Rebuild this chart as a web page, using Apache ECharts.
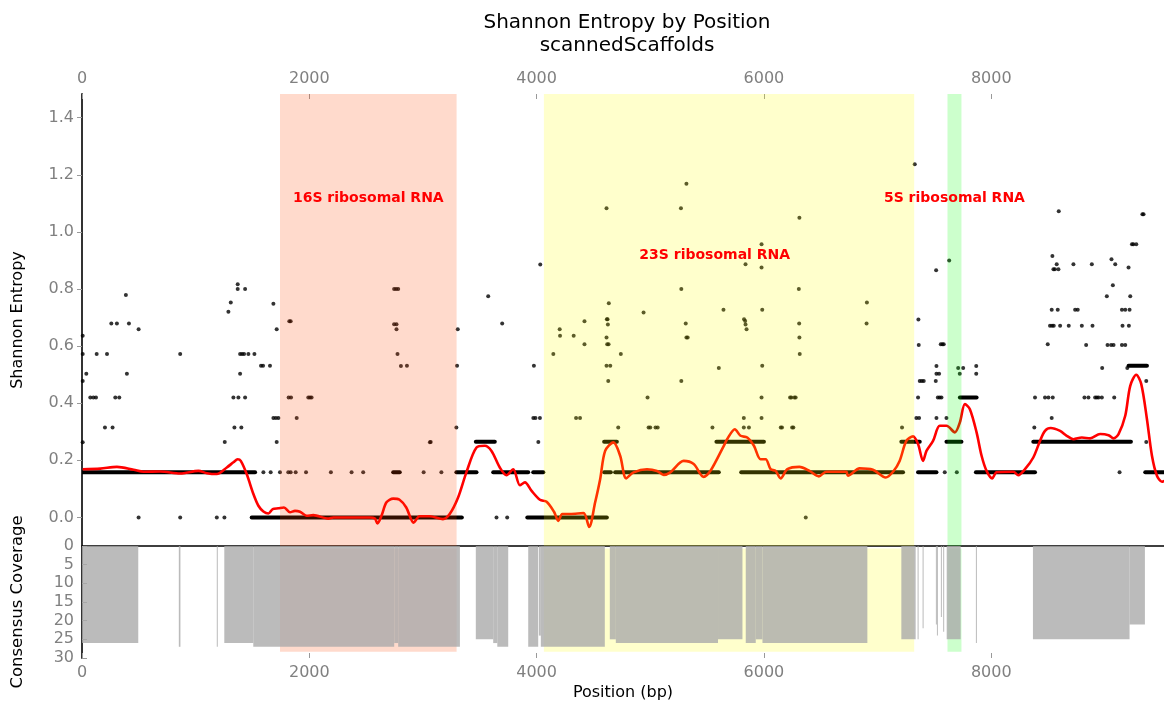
<!DOCTYPE html>
<html>
<head>
<meta charset="utf-8">
<title>Shannon Entropy by Position</title>
<script src="https://cdn.jsdelivr.net/npm/echarts@6/dist/echarts.min.js"></script>
<style>
  html, body { margin: 0; padding: 0; background: #fff; }
  #chart { width: 1164px; height: 706px; }
</style>
</head>
<body>
<div id="chart"></div>
<script>
// annotated genes (bp)
const regionName = ['16S ribosomal RNA', '23S ribosomal RNA', '5S ribosomal RNA'];
const regionStart = [1742, 4064, 7615];
const regionEnd = [3296, 7322, 7738];
const regionLabelX = [2519, 5567, 7676];
const regionLabelY = [1.117, 0.917, 1.117];

// entropy ticks
const entropyTicks = [0, 0.2, 0.4, 0.6, 0.8, 1.0, 1.2, 1.4];

// runs of consecutive positions with the same entropy: start, end, value
const runStart = [0, 2738, 3294, 3618, 3970, 4594, 4691, 5800, 7356, 7865, 9355,
  3465, 4594, 5582, 7209, 7606, 8370, 7724, 9208, 1493, 3918];
const runEnd = [1523, 2796, 3471, 3926, 4059, 4653, 5603, 7224, 7518, 8385, 9523,
  3632, 4706, 6000, 7371, 7738, 9229, 7871, 9370, 3342, 4618];
const runValue = [0.158, 0.158, 0.158, 0.158, 0.158, 0.158, 0.158, 0.158, 0.158, 0.158, 0.158,
  0.265, 0.265, 0.265, 0.265, 0.265, 0.265, 0.42, 0.531, 0, 0];

// single positions
const dotPos = [6, 6, 6, 6, 38, 73, 100, 123, 129, 202, 220, 258, 307, 269, 293, 328, 386, 395, 413, 498, 498,
  864, 864, 1186, 1253, 1256, 1288, 1309, 1332, 1341, 1370, 1370, 1376, 1391, 1391, 1409, 1426, 1402, 1435, 1435,
  1464, 1517, 1575, 1593, 1654, 1684, 1684, 1706, 1728, 1713, 1713, 1824, 1836, 1818, 1839, 1889, 1991, 2006, 2020,
  1596, 1660, 1742, 1815, 1836, 1880, 1971, 2190, 2372, 2474,
  2746, 2764, 2782, 2746, 2767, 2767, 2776, 2859, 2806, 3006, 3162, 3061, 3068, 3306, 3300, 3294,
  3574, 3697, 3647, 3741, 3976, 3971, 3990, 4029, 4015, 4032, 4147, 4203, 4206, 4326, 4347, 4382, 4421, 4421,
  4615, 4618, 4624, 4627, 4615, 4621, 4633, 4615, 4648, 4630, 4635, 4718, 4741, 4941, 4976, 4985, 5000, 5046, 5065,
  5270, 5273, 5312, 5318, 5318, 5329, 5273, 5547, 5603, 5644, 5838, 5825, 5835, 5838, 5847, 5823, 5823, 5868,
  5979, 5979, 5985, 5985, 5979, 5979, 6159, 6148, 6241, 6230, 6268, 6279, 6259, 6248,
  6312, 6307, 6310, 6312, 6315, 6368, 6906, 6903, 7215, 7327, 7359, 7362, 7371, 7389, 7406, 7356, 7341, 7365,
  7515, 7518, 7518, 7541, 7512, 7530, 7546, 7562, 7518, 7606, 7556, 7570, 7582, 7591, 7630, 7709, 7753, 7723, 7697,
  7868, 7868, 8379, 8385, 8473, 8503, 8541, 8497, 8532, 8538, 8532, 8585, 8517, 8535, 8550, 8606, 8576, 8547, 8560,
  8591, 8594, 8682, 8723, 8738, 8761, 8797, 8835, 8885, 8891, 8820, 8855, 8914, 8929, 8944, 8973, 9082, 8976, 9017,
  9058, 9091, 9070, 9023, 9055, 9076, 9150, 9179, 9150, 9179, 9217, 9155, 9211, 9208, 9223, 9197, 9238, 9250, 9276,
  9330, 9340, 9364, 9364, 9129];
const dotEntropy = [0.636, 0.572, 0.478, 0.263, 0.503, 0.42, 0.42, 0.42, 0.572, 0.315, 0.572, 0.679, 0.679, 0.315, 0.42, 0.42, 0.779, 0.503, 0.679, 0.659, 0,
  0.572, 0, 0, 0, 0.264, 0.72, 0.753, 0.42, 0.315, 0.817, 0.8, 0.42, 0.503, 0.572, 0.572, 0.572, 0.315, 0.8, 0.42,
  0.572, 0.572, 0.531, 0.531, 0.531, 0.748, 0.348, 0.348, 0.348, 0.659, 0.264, 0.687, 0.687, 0.42, 0.42, 0.348, 0.42, 0.42, 0.42,
  0.158, 0.158, 0.158, 0.158, 0.158, 0.158, 0.158, 0.158, 0.158, 0.158,
  0.8, 0.8, 0.8, 0.677, 0.677, 0.659, 0.572, 0.531, 0.53, 0.158, 0.158, 0.263, 0.264, 0.659, 0.531, 0.315,
  0.775, 0.679, 0, 0, 0.531, 0.348, 0.348, 0.348, 0.264, 0.886, 0.572, 0.659, 0.636, 0.636, 0.348, 0.348, 0.687, 0.607,
  1.083, 0.694, 0.694, 0.676, 0.63, 0.607, 0.607, 0.531, 0.531, 0.478, 0.75, 0.315, 0.572, 0.718, 0.42, 0.315, 0.315, 0.315, 0.315,
  1.083, 0.8, 0.679, 1.169, 0.63, 0.63, 0.478, 0.315, 0.523, 0.727, 0.887, 0.694, 0.688, 0.676, 0.659, 0.348, 0.315, 0.315,
  0.957, 0.875, 0.727, 0.531, 0.42, 0.348, 0.315, 0.315, 0.42, 0.42, 0.42, 0.42, 0.315, 0.315,
  1.05, 0.8, 0.679, 0.63, 0.572, 0, 0.753, 0.679, 0.315, 1.237, 0.693, 0.604, 0.478, 0.478, 0.478, 0.42, 0.348, 0.348,
  0.866, 0.53, 0.503, 0.503, 0.478, 0.42, 0.42, 0.42, 0.348, 0.348, 0.607, 0.607, 0.607, 0.158, 0.9, 0.523, 0.523, 0.503, 0.158,
  0.53, 0.503, 0.315, 0.42, 0.42, 0.42, 0.42, 0.607, 0.348, 0.916, 0.727, 0.727, 0.671, 0.671, 0.671, 0.671, 0.887, 0.869, 0.869,
  0.869, 1.072, 0.671, 0.887, 0.727, 0.727, 0.671, 0.604, 0.887, 0.671, 0.42, 0.42, 0.42, 0.42, 0.42, 0.42, 0.42, 0.523, 0.775,
  0.904, 0.887, 0.813, 0.604, 0.604, 0.604, 0.604, 0.604, 0.727, 0.727, 0.727, 0.671, 0.671, 0.875, 0.775, 0.523, 0.957, 0.957, 0.957,
  1.062, 1.062, 0.478, 0.264, 0.158];

// smoothed entropy (red curve)
const smoothPos = [6, 161, 307, 454, 542, 688, 864, 1025, 1098, 1186, 1274, 1332, 1370, 1397, 1449, 1508, 1552, 1596,
  1640, 1678, 1728, 1777, 1830, 1874, 1918, 1976, 2035, 2167, 2211, 2386, 2533, 2577, 2600, 2635, 2679, 2738, 2794,
  2853, 2918, 2971, 3059, 3176, 3235, 3309, 3382, 3471, 3544, 3603, 3676, 3735, 3794, 3853, 3897, 3956, 4029, 4088,
  4153, 4191, 4226, 4294, 4412, 4462, 4515, 4559, 4603, 4676, 4735, 4788, 4853, 4971, 5059, 5118, 5176, 5294, 5382,
  5470, 5529, 5647, 5676, 5744, 5794, 5853, 5912, 5970, 6015, 6059, 6103, 6147, 6206, 6312, 6401, 6483, 6548, 6724,
  6739, 6842, 6959, 7071, 7136, 7194, 7253, 7312, 7356, 7400, 7430, 7488, 7547, 7606, 7680, 7724, 7768, 7812, 7871,
  7915, 7959, 8009, 8047, 8194, 8238, 8297, 8370, 8429, 8473, 8523, 8606, 8664, 8723, 8797, 8870, 8958, 9032, 9076,
  9120, 9179, 9223, 9276, 9320, 9370, 9414, 9458, 9502, 9523];
const smoothEntropy = [0.169, 0.171, 0.177, 0.167, 0.16, 0.161, 0.154, 0.163, 0.155, 0.152, 0.175, 0.193, 0.204, 0.198,
  0.152, 0.082, 0.041, 0.021, 0.014, 0.029, 0.032, 0.035, 0.018, 0.023, 0.02, 0.006, 0.008, -0.004, 0, 0, 0, -0.004,
  -0.021, 0.006, 0.053, 0.066, 0.062, 0.035, -0.018, 0.004, 0.004, -0.006, 0.012, 0.07, 0.158, 0.245, 0.251, 0.233,
  0.175, 0.148, 0.169, 0.113, 0.123, 0.093, 0.062, 0.055, 0.02, -0.012, 0.012, 0.012, 0.015, -0.033, 0.053, 0.134,
  0.233, 0.263, 0.216, 0.137, 0.158, 0.169, 0.163, 0.149, 0.158, 0.198, 0.187, 0.142, 0.163, 0.251, 0.274, 0.309,
  0.286, 0.28, 0.251, 0.204, 0.204, 0.169, 0.163, 0.137, 0.169, 0.177, 0.163, 0.144, 0.16, 0.16, 0.146, 0.172, 0.167,
  0.14, 0.16, 0.198, 0.268, 0.284, 0.257, 0.198, 0.233, 0.268, 0.321, 0.321, 0.298, 0.333, 0.397, 0.379, 0.298,
  0.216, 0.163, 0.137, 0.158, 0.16, 0.148, 0.169, 0.21, 0.268, 0.303, 0.313, 0.303, 0.286, 0.274, 0.28, 0.277,
  0.292, 0.288, 0.277, 0.292, 0.356, 0.461, 0.5, 0.467, 0.344, 0.216, 0.146, 0.125, 0.128];

// consensus coverage: start, end, depth
const covStart = [0, 852, 1186, 1252, 1507, 2747, 2782, 3465, 3618, 3654, 3926, 4020, 4037, 4644, 4697, 5596,
  5840, 5928, 5987, 7209, 7352, 7396, 7513, 7522, 7557, 7577, 7608, 7865, 8367, 9217];
const covEnd = [495, 866, 1194, 1507, 2747, 2782, 3325, 3618, 3654, 3750, 4014, 4037, 4600, 4697, 5596, 5811,
  5928, 5987, 6910, 7335, 7360, 7404, 7521, 7530, 7565, 7585, 7731, 7873, 9217, 9352];
const covDepth = [26, 27, 27, 26, 27, 26, 27, 25, 26, 27, 27, 24, 27, 25, 26, 25,
  26, 25, 26, 25, 25, 22, 21, 24, 19, 23, 25, 26, 25, 21];

const xMax = 9520;
const regionColor = ['rgba(255,69,0,0.2)', 'rgba(255,255,0,0.2)', 'rgba(0,255,0,0.2)'];
const font = 'DejaVu Sans';

const chart = echarts.init(document.getElementById('chart'));

const xCommon = {
  type: 'value', min: 0, max: xMax, interval: 2000,
  axisLine: { show: false, onZero: false },
  axisTick: { show: true, inside: true, length: 5, lineStyle: { color: '#999' } },
  axisLabel: {
    color: '#808080', fontSize: 16, fontFamily: font, margin: 7, showMaxLabel: false,
    formatter: v => String(v)
  },
  splitLine: { show: false }
};

const option = {
  animation: false,
  textStyle: { fontFamily: font },
  title: {
    text: 'Shannon Entropy by Position\nscannedScaffolds',
    left: 622, top: 6, textAlign: 'center',
    textStyle: { fontFamily: font, fontSize: 20, fontWeight: 'normal', color: '#000', lineHeight: 23 }
  },
  grid: [
    { left: 82, right: 0, top: 94, height: 452 },
    { left: 82, right: 0, top: 546, height: 112 }
  ],
  xAxis: [
    Object.assign({}, xCommon, { gridIndex: 0, position: 'top' }),
    Object.assign({}, xCommon, {
      gridIndex: 1, position: 'bottom',
      name: 'Position (bp)', nameLocation: 'middle', nameGap: 27,
      nameTextStyle: { color: '#000', fontSize: 16, fontFamily: font }
    }),
    {
      gridIndex: 1, type: 'value', position: 'top', min: 0, max: xMax,
      axisLine: { show: true, onZero: false, lineStyle: { color: '#000', width: 1.5 } },
      axisTick: { show: false }, axisLabel: { show: false }, splitLine: { show: false }
    }
  ],
  yAxis: [
    {
      gridIndex: 0, type: 'value', min: -0.1, max: 1.483,
      axisLine: { show: true, onZero: false, lineStyle: { color: '#333', width: 2 } },
      axisTick: { show: true, length: 5, customValues: entropyTicks, lineStyle: { color: '#999' } },
      axisLabel: {
        customValues: entropyTicks, color: '#808080', fontSize: 16, fontFamily: font, margin: 8,
        formatter: v => v.toFixed(1)
      },
      splitLine: { show: false },
      name: 'Shannon Entropy', nameLocation: 'middle', nameGap: 56,
      nameTextStyle: { color: '#000', fontSize: 16, fontFamily: font }
    },
    {
      gridIndex: 1, type: 'value', inverse: true, min: 0, max: 30, interval: 5,
      axisLine: { show: true, onZero: false, lineStyle: { color: '#333', width: 2 } },
      axisTick: { show: true, inside: true, length: 5, lineStyle: { color: '#999' } },
      axisLabel: { color: '#808080', fontSize: 16, fontFamily: font, margin: 8 },
      splitLine: { show: false },
      name: 'Consensus Coverage', nameLocation: 'middle', nameGap: 56,
      nameTextStyle: { color: '#000', fontSize: 16.5, fontFamily: font }
    }
  ],
  series: [
    {
      // gene spans, coverage panel (under the bars)
      type: 'custom', xAxisIndex: 1, yAxisIndex: 1, z: 1,
      data: regionStart.map((s, i) => [s, regionEnd[i]]),
      encode: { x: [0, 1] },
      renderItem: (params, api) => {
        const a = api.coord([api.value(0), 0.7]);
        const b = api.coord([api.value(1), 28.3]);
        return {
          type: 'rect',
          shape: { x: a[0], y: a[1], width: b[0] - a[0], height: b[1] - a[1] },
          style: { fill: regionColor[params.dataIndex] }
        };
      }
    },
    {
      // coverage bars
      type: 'custom', xAxisIndex: 1, yAxisIndex: 1, z: 2, clip: true,
      data: covStart.map((s, i) => [s, covEnd[i], covDepth[i]]),
      encode: { x: [0, 1], y: 2 },
      renderItem: (params, api) => {
        const p0 = api.coord([api.value(0), 0]);
        const p1 = api.coord([api.value(1), api.value(2)]);
        return {
          type: 'rect',
          shape: { x: p0[0], y: p0[1], width: Math.max(p1[0] - p0[0], 1), height: p1[1] - p0[1] },
          style: { fill: 'rgba(170,170,170,0.8)' }
        };
      }
    },
    {
      // runs of identical entropy
      type: 'custom', xAxisIndex: 0, yAxisIndex: 0, z: 2, clip: true,
      data: runStart.map((s, i) => [s, runEnd[i], runValue[i]]),
      encode: { x: [0, 1], y: 2 },
      renderItem: (params, api) => {
        const a = api.coord([api.value(0), api.value(2)]);
        const b = api.coord([api.value(1), api.value(2)]);
        return {
          type: 'line',
          shape: { x1: a[0], y1: a[1], x2: b[0], y2: b[1] },
          style: { stroke: '#000', lineWidth: 4, lineCap: 'round' }
        };
      }
    },
    {
      type: 'scatter', xAxisIndex: 0, yAxisIndex: 0, z: 2,
      symbolSize: 4, itemStyle: { color: '#000' },
      data: dotPos.map((p, i) => [p, dotEntropy[i]])
    },
    {
      type: 'line', xAxisIndex: 0, yAxisIndex: 0, z: 3,
      smooth: 0.3, showSymbol: false,
      lineStyle: { color: '#ff0000', width: 2.6 },
      data: smoothPos.map((p, i) => [p, smoothEntropy[i]])
    },
    {
      // gene spans, top panel, with labels
      type: 'custom', xAxisIndex: 0, yAxisIndex: 0, z: 5,
      data: regionStart.map((s, i) => [s, regionEnd[i], regionLabelX[i], regionLabelY[i]]),
      encode: { x: [0, 1], y: 3 },
      renderItem: (params, api) => {
        const i = params.dataIndex;
        const cs = params.coordSys;
        const a = api.coord([api.value(0), 0]);
        const b = api.coord([api.value(1), 0]);
        const t = api.coord([api.value(2), api.value(3)]);
        return {
          type: 'group',
          children: [
            { type: 'rect', shape: { x: a[0], y: cs.y, width: b[0] - a[0], height: cs.height },
              style: { fill: regionColor[i] } },
            { type: 'text', x: t[0], y: t[1], z2: 10,
              style: { text: regionName[i], fill: '#ff0000', font: 'bold 14px "DejaVu Sans"',
                align: 'center', verticalAlign: 'middle' } }
          ]
        };
      }
    }
  ]
};

chart.setOption(option);
</script>
</body>
</html>
